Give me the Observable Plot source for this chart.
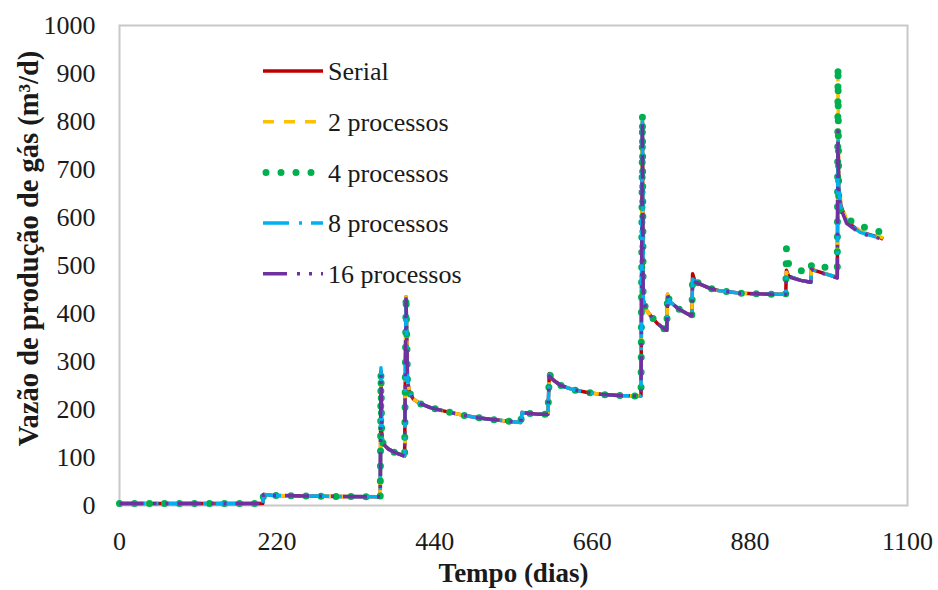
<!DOCTYPE html>
<html>
<head>
<meta charset="utf-8">
<script src="https://cdn.jsdelivr.net/npm/d3@7"></script>
<script src="https://cdn.jsdelivr.net/npm/@observablehq/plot@0.6"></script>
<style>
  html, body { margin: 0; padding: 0; background: #fff; }
  #wrap { position: relative; width: 938px; height: 590px; }
  #legend { position: absolute; left: 0; top: 0; pointer-events: none; }
</style>
</head>
<body>
<div id="wrap"></div>
<script>
// Tempo (dias)
const dias = [0, 200, 201, 215, 260, 300, 364,
  365, 366, 368, 375, 385, 398,
  400, 402, 405, 410, 420, 434,
  458, 480, 500, 520, 540, 560,
  562, 570, 585, 598, 600, 605,
  616, 634, 655, 676, 697, 728,
  730, 731, 735, 741, 751, 762,
  764, 765, 768, 780, 797, 799,
  800, 803, 812, 825, 836, 867,
  888, 911, 930, 931, 934, 951,
  965, 966, 970, 1002, 1003, 1004,
  1007, 1015, 1034, 1062, 1066];

// Vazão de produção de gás (m³/d)
const serial = [4, 4, 23, 21, 20, 19, 18,
  280, 150, 128, 118, 110, 103,
  435, 260, 235, 222, 212, 204,
  195, 188, 183, 179, 176, 173,
  194, 192, 190, 190, 275, 262,
  250, 241, 235, 231, 229, 228,
  800, 430, 408, 396, 379, 366,
  365, 440, 425, 410, 396, 396,
  483, 468, 460, 452, 448, 442,
  441, 440, 440, 490, 478, 469,
  465, 494, 490, 475, 780, 660,
  625, 592, 570, 558, 555];

const p2 = [4, 4, 23, 21, 20, 19, 18,
  280, 150, 128, 118, 110, 103,
  435, 260, 235, 222, 212, 204,
  195, 188, 183, 179, 176, 173,
  194, 192, 190, 190, 273, 262,
  250, 241, 235, 231, 229, 228,
  810, 430, 408, 396, 379, 366,
  365, 440, 425, 410, 396, 396,
  478, 468, 460, 452, 448, 442,
  441, 440, 440, 486, 478, 469,
  465, 494, 490, 476, 900, 680,
  630, 595, 572, 560, 557];

const p4 = [4, 4, 23, 21, 20, 19, 18,
  278, 150, 128, 118, 110, 103,
  437, 260, 235, 222, 212, 204,
  195, 188, 183, 179, 176, 173,
  194, 192, 190, 190, 274, 262,
  250, 241, 235, 231, 229, 228,
  815, 430, 408, 396, 379, 366,
  365, 441, 425, 410, 396, 396,
  475, 468, 460, 452, 448, 442,
  441, 440, 440, 535, 503, 489,
  488, 502, 500, 492, 915, 640,
  612, 598, 582, 570, 566];

const p8 = [4, 4, 23, 21, 20, 19, 18,
  287, 150, 128, 118, 110, 103,
  435, 260, 235, 222, 212, 204,
  195, 188, 183, 179, 176, 173,
  194, 192, 190, 190, 272, 262,
  250, 241, 235, 231, 229, 228,
  808, 430, 408, 396, 379, 366,
  365, 440, 425, 410, 396, 396,
  472, 468, 460, 452, 448, 442,
  441, 440, 440, 482, 478, 469,
  465, 494, 490, 475, 760, 660,
  622, 590, 569, 557, 554];

const p16 = [4, 4, 23, 21, 20, 19, 18,
  275, 150, 128, 118, 110, 103,
  430, 260, 235, 222, 212, 204,
  195, 188, 183, 179, 176, 173,
  194, 192, 190, 190, 270, 262,
  250, 241, 235, 231, 229, 228,
  798, 430, 408, 396, 379, 366,
  365, 438, 425, 410, 396, 396,
  469, 466, 460, 452, 448, 442,
  441, 440, 440, 479, 476, 469,
  465, 492, 489, 474, 780, 650,
  618, 588, 567, 556, 553];

const nomes = ["Serial", "2 processos", "4 processos", "8 processos", "16 processos"];
const xTicks = [0, 220, 440, 660, 880, 1100];
const yTicks = [0, 100, 200, 300, 400, 500, 600, 700, 800, 900, 1000];

const valores = [serial, p2, p4, p8, p16];
const estilos = [
  {stroke: "#C00000", strokeWidth: 3.5, strokeDasharray: null, strokeLinecap: "butt"},
  {stroke: "#FFC000", strokeWidth: 3.5, strokeDasharray: "11 10", strokeLinecap: "butt"},
  {stroke: "#00B050", strokeWidth: 7, strokeDasharray: "0 15", strokeLinecap: "round"},
  {stroke: "#00B0F0", strokeWidth: 3.5, strokeDasharray: "26 10 3 9", strokeLinecap: "butt"},
  {stroke: "#7030A0", strokeWidth: 3.5, strokeDasharray: "24 10 3 9 3 9", strokeLinecap: "butt"}
];

const series = valores.map((vals, k) => dias.map((d, i) => ({dia: d, vazao: vals[i], serie: nomes[k]})));

const W = 938, H = 590;
const mL = 119, mR = 31, mT = 25, mB = 85;
const FONT = "'Liberation Serif', 'Times New Roman', serif";

const chart = Plot.plot({
  width: W,
  height: H,
  marginLeft: mL,
  marginRight: mR,
  marginTop: mT,
  marginBottom: mB,
  style: {fontFamily: FONT, fontSize: "26px", color: "#1a1a1a", background: "#fff", overflow: "visible"},
  x: {domain: [0, 1100]},
  y: {domain: [0, 1000]},
  marks: [
    Plot.frame({stroke: "#c8c8c8", strokeWidth: 2}),
    Plot.axisX({ticks: xTicks, tickSize: 0, tickPadding: 26, label: null, tickFormat: d => String(d)}),
    Plot.axisY({ticks: yTicks, tickSize: 0, tickPadding: 24, label: null, tickFormat: d => String(d)}),
    ...series.map((s, k) => Plot.line(s, {
      x: "dia", y: "vazao",
      stroke: estilos[k].stroke,
      strokeWidth: estilos[k].strokeWidth,
      strokeDasharray: estilos[k].strokeDasharray,
      strokeLinecap: estilos[k].strokeLinecap,
      strokeLinejoin: "round"
    })),
    Plot.text(["Tempo (dias)"], {frameAnchor: "bottom", dy: 76, fontWeight: "bold", fontSize: 27, fill: "#1a1a1a"}),
    Plot.text(["Vazão de produção de gás (m³/d)"], {frameAnchor: "left", textAnchor: "middle", dx: -91, dy: -17, rotate: -90, fontWeight: "bold", fontSize: 28.5, fill: "#1a1a1a"})
  ]
});

const wrap = document.getElementById("wrap");
wrap.appendChild(chart);

// Legend overlay
const leg = d3.select(wrap).append("svg")
  .attr("id", "legend")
  .attr("width", W).attr("height", H);
const legX0 = 263, legX1 = 323, legY0 = 71, legDy = 50.7;
nomes.forEach((n, k) => {
  const y = legY0 + k * legDy;
  const e = estilos[k];
  leg.append("line")
    .attr("x1", k === 2 ? legX0 + 3 : legX0).attr("x2", legX1)
    .attr("y1", y).attr("y2", y)
    .attr("stroke", e.stroke)
    .attr("stroke-width", e.strokeWidth)
    .attr("stroke-dasharray", e.strokeDasharray)
    .attr("stroke-linecap", e.strokeLinecap);
  leg.append("text")
    .attr("x", legX1 + 5).attr("y", y)
    .attr("dy", "0.35em")
    .attr("font-family", FONT)
    .attr("font-size", 26)
    .attr("fill", "#1a1a1a")
    .text(n);
});
</script>
</body>
</html>
